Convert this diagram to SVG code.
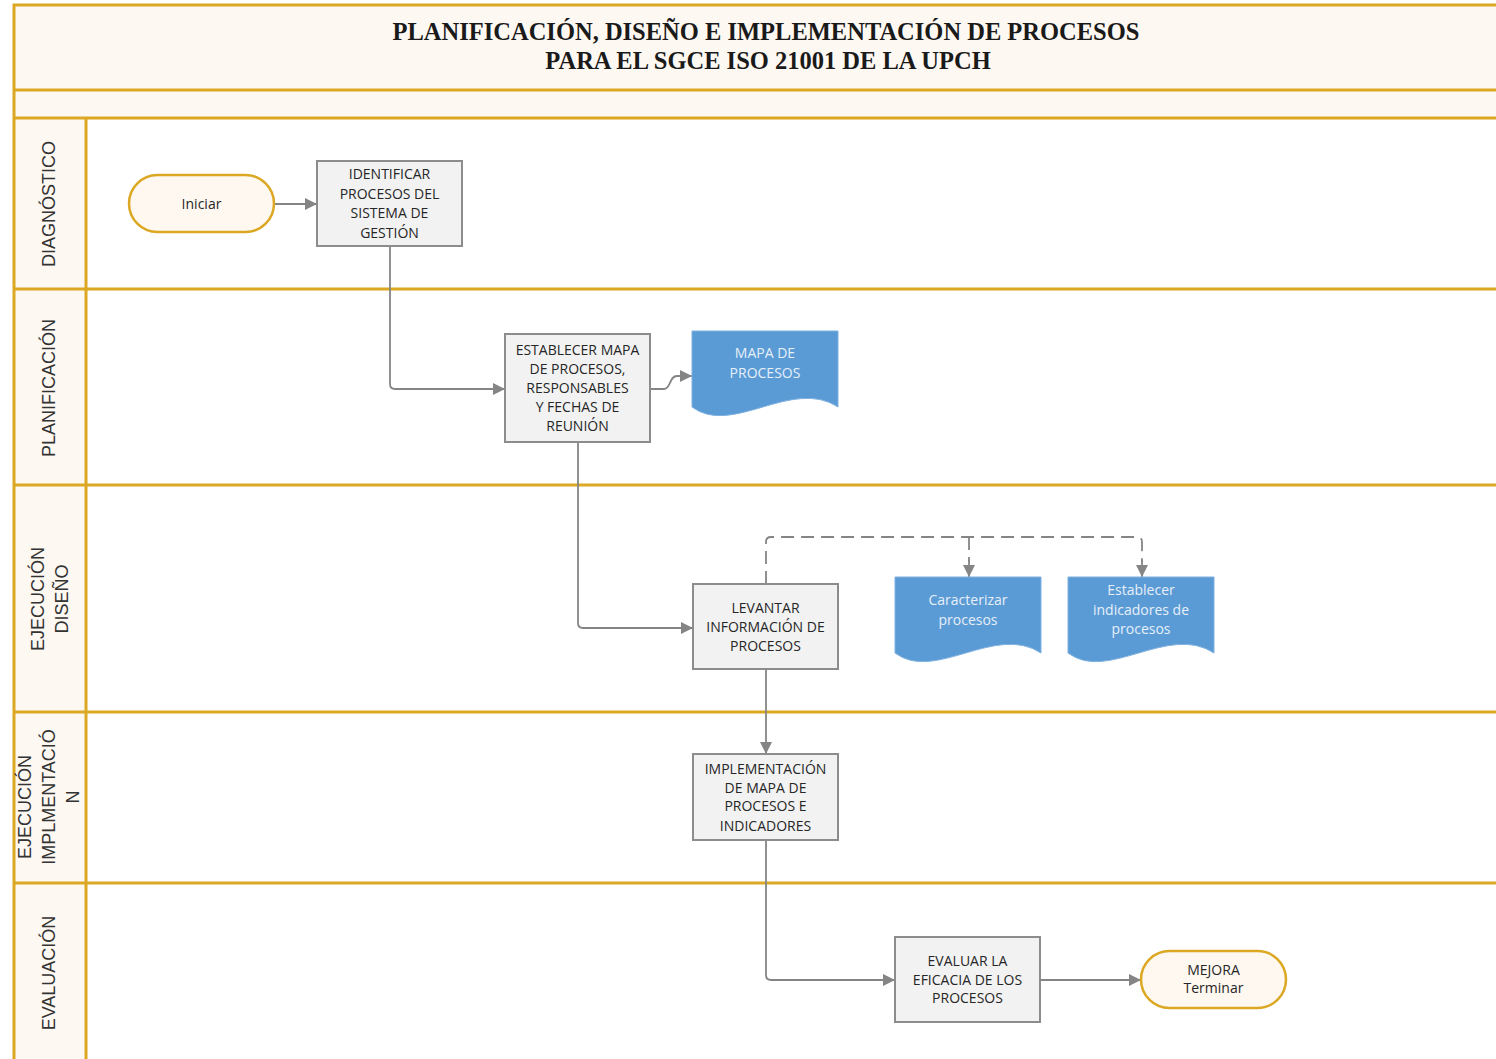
<svg xmlns="http://www.w3.org/2000/svg" width="1496" height="1059" viewBox="0 0 1496 1059">
  <style>
    .lane-line { stroke: #DCA823; stroke-width: 3; fill: none; }
    .band { fill: #FEF8F2; }
    .title { font-family: "Liberation Serif", "Times New Roman", serif; font-weight: bold; font-size: 24.5px; fill: #1a1a1a; text-anchor: middle; }
    .lane-label { font-family: "Liberation Sans", Arial, sans-serif; font-size: 18px; fill: #333; text-anchor: middle; }
    .step { fill: #F2F2F2; stroke: #8C8C8C; stroke-width: 2; }
    .term { fill: #FEF8F0; stroke: #DCA823; stroke-width: 2.5; }
    .doc { fill: #5B9BD5; stroke: #7FB1E0; stroke-width: 1; }
    .txt { font-family: "Open Sans", "DejaVu Sans", sans-serif; font-size: 14px; fill: #262626; text-anchor: middle; }
    .doc-txt { font-family: "Open Sans", "DejaVu Sans", sans-serif; font-size: 14px; fill: #E6EFF9; text-anchor: middle; }
    .flow { stroke: #858585; stroke-width: 1.8; fill: none; }
    .flow-dash { stroke: #858585; stroke-width: 1.8; fill: none; stroke-dasharray: 13 7; }
  </style>
  <defs>
    <marker id="arrow" viewBox="0 0 10 10" refX="10" refY="5" markerWidth="13" markerHeight="12" markerUnits="userSpaceOnUse" orient="auto">
      <path d="M0,0 L10,5 L0,10 z" fill="#858585"/>
    </marker>
    <path id="docShape" d="M0,0 H146 V76 C100,46 40,106 0,76 Z"/>
  </defs>

  <rect width="1496" height="1059" fill="#ffffff"/>

  <!-- pool frame: header, spacer band and lane label column -->
  <g id="pool">
    <rect class="band" x="14" y="5" width="1490" height="113"/>
    <rect class="band" x="14" y="118" width="72" height="945"/>
    <path class="lane-line" d="M1500,5 H14 V1063"/>
    <path class="lane-line" d="M14,90 H1500 M14,118 H1500 M86,118 V1063"/>
    <path class="lane-line" d="M14,289 H1500 M14,485 H1500 M14,712 H1500 M14,883 H1500"/>
    <text class="title" x="766" y="40">PLANIFICACIÓN, DISEÑO E IMPLEMENTACIÓN DE PROCESOS</text>
    <text class="title" x="768" y="69">PARA EL SGCE ISO 21001 DE LA UPCH</text>
  </g>

  <!-- lane labels -->
  <g id="lane-diagnostico">
    <text class="lane-label" transform="translate(55,204) rotate(-90)">DIAGNÓSTICO</text>
  </g>
  <g id="lane-planificacion">
    <text class="lane-label" transform="translate(55,388) rotate(-90)">PLANIFICACIÓN</text>
  </g>
  <g id="lane-ejecucion-diseno">
    <text class="lane-label" transform="translate(44,599) rotate(-90)">EJECUCIÓN</text>
    <text class="lane-label" transform="translate(68,599) rotate(-90)">DISEÑO</text>
  </g>
  <g id="lane-ejecucion-implementacion">
    <text class="lane-label" transform="translate(31,807) rotate(-90)">EJECUCIÓN</text>
    <text class="lane-label" transform="translate(55,797) rotate(-90)">IMPLMENTACIÓ</text>
    <text class="lane-label" transform="translate(79,797) rotate(-90)">N</text>
  </g>
  <g id="lane-evaluacion">
    <text class="lane-label" transform="translate(55,973) rotate(-90)">EVALUACIÓN</text>
  </g>

  <!-- connectors -->
  <g id="connectors">
    <path class="flow" d="M274,204 H317" marker-end="url(#arrow)"/>
    <path class="flow" d="M390,246 V384 Q390,389 395,389 H505" marker-end="url(#arrow)"/>
    <path class="flow" d="M650,389 H664 C671,389 669,376 677,376 H692" marker-end="url(#arrow)"/>
    <path class="flow" d="M578,442 V623 Q578,628 583,628 H693" marker-end="url(#arrow)"/>
    <path class="flow-dash" d="M766,584 V542 Q766,537 771,537 H1137 Q1142,537 1142,542 V562"/>
    <path class="flow-dash" d="M969,537 V562"/>
    <path class="flow" d="M969,560 V577" marker-end="url(#arrow)"/>
    <path class="flow" d="M1142,560 V577" marker-end="url(#arrow)"/>
    <path class="flow" d="M766,669 V754" marker-end="url(#arrow)"/>
    <path class="flow" d="M766,840 V975 Q766,980 771,980 H895" marker-end="url(#arrow)"/>
    <path class="flow" d="M1040,980 H1141" marker-end="url(#arrow)"/>
  </g>

  <!-- nodes -->
  <g id="iniciar">
    <rect class="term" x="129" y="175" width="145" height="57" rx="28.5"/>
    <text class="txt" x="201.5" y="209">Iniciar</text>
  </g>

  <g id="identificar">
    <rect class="step" x="317" y="161" width="145" height="85"/>
    <text class="txt" x="389.5" y="179">IDENTIFICAR</text>
    <text class="txt" x="389.5" y="198.5">PROCESOS DEL</text>
    <text class="txt" x="389.5" y="218">SISTEMA DE</text>
    <text class="txt" x="389.5" y="237.5">GESTIÓN</text>
  </g>

  <g id="establecer-mapa">
    <rect class="step" x="505" y="334" width="145" height="108"/>
    <text class="txt" x="577.5" y="355">ESTABLECER MAPA</text>
    <text class="txt" x="577.5" y="374">DE PROCESOS,</text>
    <text class="txt" x="577.5" y="393">RESPONSABLES</text>
    <text class="txt" x="577.5" y="412"> Y FECHAS DE</text>
    <text class="txt" x="577.5" y="431">REUNIÓN</text>
  </g>

  <g id="mapa-procesos">
    <use href="#docShape" class="doc" x="692" y="331"/>
    <text class="doc-txt" x="765" y="358">MAPA DE</text>
    <text class="doc-txt" x="765" y="377.5">PROCESOS</text>
  </g>

  <g id="levantar">
    <rect class="step" x="693" y="584" width="145" height="85"/>
    <text class="txt" x="765.5" y="613">LEVANTAR</text>
    <text class="txt" x="765.5" y="632">INFORMACIÓN DE</text>
    <text class="txt" x="765.5" y="650.5">PROCESOS</text>
  </g>

  <g id="caracterizar">
    <use href="#docShape" class="doc" x="895" y="577"/>
    <text class="doc-txt" x="968" y="605">Caracterizar</text>
    <text class="doc-txt" x="968" y="624.5">procesos</text>
  </g>

  <g id="establecer-indicadores">
    <use href="#docShape" class="doc" x="1068" y="577"/>
    <text class="doc-txt" x="1141" y="595">Establecer</text>
    <text class="doc-txt" x="1141" y="614.5">indicadores de</text>
    <text class="doc-txt" x="1141" y="634">procesos</text>
  </g>

  <g id="implementacion">
    <rect class="step" x="693" y="754" width="145" height="86"/>
    <text class="txt" x="765.5" y="773.5">IMPLEMENTACIÓN</text>
    <text class="txt" x="765.5" y="793">DE MAPA DE</text>
    <text class="txt" x="765.5" y="811">PROCESOS E</text>
    <text class="txt" x="765.5" y="830.5">INDICADORES</text>
  </g>

  <g id="evaluar">
    <rect class="step" x="895" y="937" width="145" height="85"/>
    <text class="txt" x="967.5" y="965.5">EVALUAR LA</text>
    <text class="txt" x="967.5" y="985">EFICACIA DE LOS</text>
    <text class="txt" x="967.5" y="1003">PROCESOS</text>
  </g>

  <g id="mejora-terminar">
    <rect class="term" x="1141" y="951" width="145" height="57" rx="28.5"/>
    <text class="txt" x="1213.5" y="975">MEJORA</text>
    <text class="txt" x="1213.5" y="993">Terminar</text>
  </g>
</svg>
